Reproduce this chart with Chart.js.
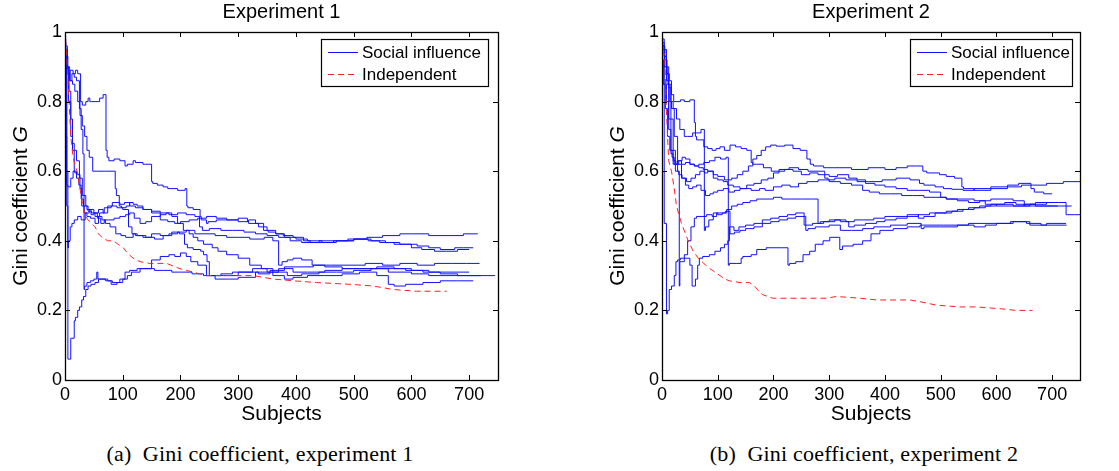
<!DOCTYPE html>
<html>
<head>
<meta charset="utf-8">
<script src="https://cdn.jsdelivr.net/npm/chart.js@4.4.1/dist/chart.umd.min.js"></script>
<style>
  body { margin: 0; background: #fff; width: 1119px; height: 471px; position: relative; overflow: hidden; }
  canvas { position: absolute; top: 0; }
  .caption { position: absolute; top: 441px; font-family: "Liberation Serif", "DejaVu Serif", serif; font-size: 22px; letter-spacing: 0.2px; white-space: nowrap; transform: translateX(-50%); color: #000; }
</style>
</head>
<body>
<canvas id="exp1" width="560" height="430" style="left:0"></canvas>
<canvas id="exp2" width="559" height="430" style="left:560px"></canvas>
<div class="caption" style="left:260px">(a)&nbsp; Gini coefficient, experiment 1</div>
<div class="caption" style="left:864px">(b)&nbsp; Gini coefficient, experiment 2</div>
<script>
// axis ticks (shared by both panels)
const xTicks = [0, 100, 200, 300, 400, 500, 600, 700];
const yTicks = [0, 0.2, 0.4, 0.6, 0.8, 1];

// ---- Experiment 1: [subjects, Gini] ----
const exp1Independent = [[1,0.98],[4,0.9],[7,0.8],[10,0.7],[14,0.64],[17,0.62],[21,0.6],[26,0.55],[31,0.5],[36,0.47],[40,0.46],[46,0.45],[52,0.44],[58,0.42],[64,0.41],[74,0.40],[84,0.40],[92,0.39],[101,0.38],[108,0.365],[118,0.35],[130,0.34],[147,0.335],[176,0.335],[199,0.32],[222,0.31],[245,0.30],[270,0.30],[292,0.30],[326,0.30],[361,0.29],[396,0.285],[436,0.28],[494,0.275],[534,0.27],[569,0.26],[609,0.255],[661,0.255]];

const exp1World1 = [[1,0.98],[4,0.96],[6,0.9],[9,0.88],[14,0.89],[18,0.88],[22,0.89],[27,0.88],[30,0.80],[36,0.79],[40,0.80],[43,0.81],[46,0.80],[60,0.80],[66,0.81],[71,0.82],[73,0.66],[76,0.64],[85,0.63],[95,0.635],[104,0.63],[108,0.615],[118,0.62],[122,0.63],[135,0.625],[140,0.62],[150,0.62],[152,0.57],[160,0.565],[170,0.56],[178,0.555],[195,0.55],[208,0.545],[211,0.55],[213,0.50],[222,0.495],[234,0.49],[236,0.47],[245,0.46],[248,0.45],[262,0.455],[275,0.46],[300,0.46],[316,0.465],[318,0.455],[335,0.45],[344,0.44],[352,0.43],[365,0.425],[378,0.42],[395,0.415],[413,0.41],[425,0.40],[445,0.395],[465,0.395],[490,0.40],[523,0.405],[550,0.41],[580,0.415],[600,0.42],[630,0.42],[660,0.415],[690,0.415],[715,0.42]];
const exp1World2 = [[1,0.97],[5,0.93],[9,0.88],[13,0.86],[17,0.85],[22,0.83],[26,0.80],[30,0.76],[34,0.73],[38,0.70],[42,0.66],[48,0.64],[54,0.60],[70,0.60],[87,0.60],[89,0.55],[94,0.53],[98,0.50],[106,0.495],[112,0.50],[118,0.51],[125,0.505],[135,0.50],[150,0.49],[165,0.485],[180,0.48],[195,0.475],[210,0.48],[225,0.475],[233,0.47],[238,0.44],[250,0.43],[270,0.435],[290,0.43],[310,0.43],[330,0.425],[350,0.42],[370,0.415],[390,0.41],[410,0.40],[440,0.395],[470,0.40],[500,0.40],[530,0.405],[555,0.40],[580,0.395],[610,0.39],[630,0.385],[650,0.38],[675,0.375],[690,0.38],[707,0.38]];
const exp1World3 = [[1,0.98],[3,0.95],[5,0.6],[6,0.38],[9,0.40],[12,0.44],[16,0.45],[22,0.46],[28,0.47],[35,0.46],[42,0.48],[50,0.49],[58,0.48],[66,0.49],[74,0.48],[82,0.50],[95,0.51],[103,0.505],[112,0.51],[122,0.50],[135,0.495],[150,0.49],[165,0.48],[178,0.46],[190,0.455],[200,0.45],[215,0.455],[230,0.46],[245,0.465],[262,0.47],[280,0.465],[300,0.46],[318,0.455],[330,0.46],[344,0.45],[350,0.44],[365,0.43],[380,0.42],[400,0.41],[420,0.405],[445,0.40],[470,0.395],[500,0.40],[525,0.405],[545,0.40],[570,0.395],[600,0.39],[618,0.38],[640,0.375],[660,0.37],[680,0.37],[700,0.375]];
const exp1World4 = [[1,0.96],[3,0.7],[5,0.56],[10,0.555],[14,0.58],[17,0.60],[22,0.595],[26,0.59],[29,0.55],[33,0.50],[38,0.48],[44,0.47],[52,0.465],[58,0.45],[64,0.47],[70,0.46],[78,0.45],[88,0.44],[97,0.42],[105,0.415],[118,0.41],[125,0.42],[140,0.415],[155,0.41],[170,0.405],[185,0.415],[198,0.425],[207,0.42],[212,0.39],[222,0.38],[235,0.375],[240,0.37],[246,0.36],[250,0.34],[257,0.30],[270,0.30],[290,0.305],[310,0.31],[335,0.31],[355,0.305],[380,0.315],[400,0.325],[430,0.325],[460,0.33],[490,0.33],[520,0.33],[550,0.335],[580,0.33],[610,0.335],[640,0.33],[670,0.335],[695,0.335],[718,0.335]];
const exp1World5 = [[1,0.98],[3,0.9],[5,0.5],[7,0.06],[10,0.06],[11,0.12],[16,0.12],[18,0.17],[22,0.18],[25,0.20],[29,0.21],[32,0.23],[36,0.24],[40,0.26],[45,0.27],[52,0.275],[58,0.28],[64,0.29],[74,0.29],[82,0.285],[95,0.28],[104,0.29],[112,0.31],[125,0.315],[140,0.32],[155,0.32],[170,0.315],[185,0.315],[200,0.31],[220,0.31],[240,0.305],[260,0.30],[285,0.29],[300,0.29],[330,0.295],[360,0.31],[385,0.31],[410,0.30],[440,0.305],[470,0.31],[500,0.31],[530,0.315],[560,0.32],[590,0.32],[620,0.315],[650,0.31],[680,0.305],[710,0.30],[745,0.30]];
const exp1World6 = [[1,0.99],[4,0.95],[8,0.9],[12,0.86],[16,0.88],[20,0.87],[25,0.86],[28,0.78],[31,0.72],[33,0.65],[34,0.26],[38,0.27],[44,0.28],[50,0.285],[55,0.29],[57,0.31],[60,0.29],[70,0.29],[80,0.285],[90,0.275],[100,0.28],[108,0.29],[115,0.30],[130,0.31],[150,0.32],[165,0.345],[180,0.355],[190,0.36],[200,0.355],[210,0.365],[218,0.355],[230,0.34],[245,0.33],[257,0.30],[275,0.30],[300,0.30],[325,0.31],[350,0.32],[370,0.31],[395,0.32],[420,0.31],[450,0.31],[480,0.315],[510,0.32],[540,0.32],[570,0.325],[600,0.32],[630,0.315],[660,0.31],[700,0.31]];
const exp1World7 = [[1,0.97],[3,0.93],[6,0.88],[10,0.8],[13,0.75],[16,0.68],[20,0.66],[25,0.63],[30,0.58],[36,0.53],[40,0.50],[46,0.485],[52,0.48],[60,0.47],[68,0.48],[80,0.495],[90,0.50],[100,0.495],[110,0.49],[116,0.44],[122,0.42],[135,0.415],[150,0.41],[165,0.42],[180,0.415],[195,0.42],[210,0.425],[225,0.43],[240,0.42],[260,0.42],[280,0.415],[300,0.41],[320,0.41],[345,0.405],[360,0.41],[370,0.40],[376,0.33],[385,0.34],[395,0.345],[410,0.35],[428,0.345],[432,0.33],[450,0.33],[480,0.325],[510,0.32],[540,0.32],[560,0.32],[600,0.31],[630,0.305],[660,0.30],[690,0.30],[720,0.30]];
const exp1World8 = [[1,0.96],[4,0.93],[7,0.88],[10,0.83],[13,0.7],[16,0.66],[20,0.6],[24,0.58],[28,0.56],[32,0.52],[38,0.50],[45,0.49],[50,0.475],[56,0.48],[62,0.465],[68,0.45],[75,0.46],[85,0.46],[95,0.465],[105,0.47],[112,0.475],[120,0.48],[130,0.465],[140,0.45],[150,0.455],[165,0.47],[175,0.475],[185,0.48],[195,0.47],[205,0.45],[215,0.43],[222,0.42],[230,0.41],[240,0.40],[255,0.39],[265,0.38],[280,0.37],[300,0.36],[320,0.35],[340,0.33],[360,0.32],[380,0.30],[395,0.29],[420,0.295],[450,0.30],[480,0.30],[510,0.305],[540,0.31],[560,0.30],[570,0.275],[590,0.27],[620,0.275],[650,0.28],[680,0.285],[707,0.285]];

// ---- Experiment 2 ----
const exp2Independent = [[1,0.95],[5,0.93],[8,0.77],[12,0.63],[17,0.60],[22,0.55],[26,0.50],[35,0.45],[47,0.40],[56,0.37],[65,0.35],[75,0.335],[86,0.32],[95,0.31],[104,0.30],[113,0.29],[121,0.285],[140,0.28],[157,0.28],[166,0.27],[174,0.255],[181,0.245],[190,0.24],[199,0.235],[230,0.235],[260,0.235],[295,0.235],[313,0.24],[355,0.235],[385,0.23],[445,0.23],[463,0.225],[493,0.215],[534,0.21],[564,0.21],[606,0.205],[635,0.20],[665,0.20]];

const exp2World1 = [[1,0.98],[4,0.97],[8,0.9],[12,0.86],[16,0.75],[20,0.66],[25,0.63],[30,0.62],[36,0.63],[42,0.64],[50,0.635],[58,0.62],[66,0.615],[74,0.61],[82,0.605],[92,0.60],[100,0.59],[112,0.585],[125,0.575],[135,0.58],[145,0.59],[155,0.60],[163,0.615],[170,0.635],[178,0.645],[186,0.66],[195,0.67],[205,0.675],[220,0.672],[235,0.675],[248,0.665],[260,0.66],[266,0.635],[272,0.62],[290,0.615],[310,0.61],[340,0.61],[370,0.605],[400,0.61],[420,0.605],[440,0.61],[455,0.615],[468,0.615],[475,0.60],[498,0.595],[510,0.59],[525,0.585],[538,0.58],[541,0.555],[560,0.55],[590,0.545],[620,0.55],[645,0.555],[665,0.56],[690,0.56],[720,0.565],[750,0.57]];
const exp2World2 = [[1,0.97],[5,0.96],[9,0.92],[13,0.88],[17,0.86],[21,0.82],[27,0.80],[33,0.80],[40,0.805],[50,0.80],[58,0.805],[60,0.74],[62,0.70],[68,0.69],[75,0.69],[82,0.67],[90,0.665],[97,0.66],[104,0.665],[112,0.67],[122,0.66],[132,0.675],[142,0.67],[152,0.665],[160,0.66],[163,0.625],[170,0.62],[182,0.62],[196,0.61],[210,0.60],[228,0.605],[245,0.61],[262,0.605],[280,0.60],[292,0.60],[298,0.58],[310,0.575],[330,0.58],[350,0.575],[370,0.57],[395,0.57],[420,0.575],[445,0.58],[462,0.575],[470,0.565],[490,0.56],[505,0.555],[520,0.55],[540,0.548],[560,0.545],[590,0.55],[620,0.555],[640,0.56],[662,0.565],[668,0.55],[685,0.54],[700,0.535]];
const exp2World3 = [[1,0.98],[4,0.9],[8,0.85],[12,0.8],[16,0.72],[20,0.65],[24,0.62],[30,0.60],[36,0.59],[44,0.58],[52,0.57],[60,0.58],[68,0.59],[76,0.60],[82,0.595],[92,0.60],[100,0.58],[110,0.575],[118,0.57],[128,0.56],[140,0.555],[150,0.55],[160,0.55],[175,0.545],[185,0.55],[200,0.545],[215,0.555],[230,0.56],[245,0.555],[260,0.565],[280,0.57],[300,0.575],[320,0.57],[340,0.565],[360,0.56],[372,0.545],[390,0.54],[410,0.535],[430,0.535],[450,0.53],[470,0.53],[490,0.525],[510,0.525],[540,0.52],[560,0.52],[580,0.515],[600,0.505],[630,0.50],[660,0.50],[690,0.505],[712,0.51],[725,0.51],[727,0.475],[740,0.475],[750,0.475]];
const exp2World4 = [[1,0.99],[4,0.98],[8,0.95],[12,0.9],[16,0.85],[20,0.8],[26,0.78],[32,0.75],[40,0.72],[46,0.70],[55,0.70],[62,0.71],[70,0.71],[76,0.72],[78,0.43],[84,0.44],[92,0.46],[100,0.48],[108,0.475],[116,0.48],[125,0.49],[135,0.50],[145,0.505],[158,0.51],[170,0.515],[185,0.52],[200,0.52],[215,0.525],[230,0.52],[250,0.52],[268,0.52],[280,0.52],[284,0.45],[300,0.455],[320,0.46],[335,0.455],[345,0.44],[365,0.445],[385,0.45],[400,0.455],[420,0.46],[440,0.465],[460,0.47],[480,0.475],[500,0.48],[520,0.48],[540,0.485],[560,0.49],[580,0.495],[600,0.50],[615,0.505],[635,0.51],[650,0.505],[665,0.50],[690,0.50],[710,0.50]];
const exp2World5 = [[1,0.97],[4,0.85],[8,0.45],[10,0.19],[13,0.2],[17,0.26],[22,0.27],[25,0.30],[28,0.34],[33,0.345],[39,0.35],[50,0.35],[54,0.33],[56,0.27],[60,0.27],[64,0.29],[67,0.33],[73,0.35],[85,0.355],[95,0.36],[105,0.37],[112,0.38],[118,0.39],[121,0.40],[129,0.44],[138,0.43],[150,0.44],[165,0.445],[180,0.45],[195,0.46],[210,0.465],[225,0.47],[240,0.475],[255,0.48],[258,0.445],[270,0.445],[290,0.45],[310,0.455],[330,0.46],[345,0.455],[360,0.46],[380,0.46],[400,0.465],[420,0.47],[440,0.47],[460,0.475],[470,0.465],[490,0.47],[510,0.48],[530,0.485],[550,0.49],[570,0.495],[590,0.50],[610,0.505],[630,0.505],[650,0.50],[670,0.505],[700,0.51]];
const exp2World6 = [[1,0.98],[3,0.92],[6,0.85],[10,0.78],[14,0.7],[18,0.66],[22,0.64],[28,0.62],[35,0.63],[42,0.62],[50,0.625],[58,0.62],[66,0.615],[75,0.62],[85,0.625],[95,0.63],[105,0.64],[115,0.635],[119,0.64],[121,0.33],[133,0.335],[142,0.335],[145,0.35],[160,0.355],[170,0.36],[187,0.375],[199,0.38],[215,0.38],[226,0.38],[229,0.33],[240,0.335],[253,0.34],[265,0.36],[275,0.37],[289,0.39],[301,0.40],[319,0.41],[324,0.375],[343,0.385],[360,0.39],[375,0.40],[391,0.42],[415,0.43],[440,0.435],[463,0.44],[505,0.445],[550,0.445],[594,0.45],[625,0.45],[654,0.455],[680,0.45],[700,0.445],[726,0.445]];
const exp2World7 = [[1,0.97],[4,0.96],[8,0.93],[12,0.88],[16,0.84],[20,0.75],[24,0.66],[28,0.62],[31,0.60],[32,0.27],[35,0.34],[40,0.34],[46,0.36],[52,0.40],[58,0.44],[62,0.465],[70,0.47],[80,0.47],[90,0.475],[98,0.47],[106,0.48],[114,0.48],[122,0.485],[130,0.42],[140,0.425],[150,0.43],[165,0.435],[180,0.44],[195,0.45],[210,0.455],[225,0.46],[240,0.465],[258,0.47],[262,0.43],[275,0.435],[300,0.44],[320,0.445],[340,0.43],[360,0.43],[380,0.435],[410,0.44],[440,0.445],[465,0.45],[470,0.435],[500,0.44],[530,0.44],[560,0.445],[580,0.44],[600,0.445],[630,0.45],[660,0.455],[690,0.445],[725,0.45]];
const exp2World8 = [[1,0.98],[5,0.95],[9,0.9],[13,0.85],[17,0.8],[22,0.78],[28,0.70],[35,0.62],[42,0.58],[48,0.56],[55,0.55],[62,0.555],[70,0.56],[78,0.545],[86,0.53],[92,0.535],[100,0.54],[110,0.545],[120,0.55],[130,0.54],[140,0.545],[152,0.55],[165,0.56],[178,0.565],[190,0.575],[200,0.58],[210,0.595],[220,0.60],[235,0.605],[250,0.60],[265,0.59],[280,0.595],[300,0.59],[315,0.585],[335,0.59],[350,0.58],[365,0.575],[382,0.565],[400,0.56],[420,0.555],[440,0.55],[460,0.545],[480,0.545],[500,0.54],[510,0.525],[530,0.52],[550,0.515],[570,0.51],[590,0.515],[610,0.52],[630,0.52],[650,0.515],[670,0.505],[700,0.50],[735,0.50]];

const BLUE = '#1010ff';
const RED = '#ff2020';
const SANS = '"Liberation Sans", Arial, Helvetica, sans-serif';

/**
 * Draws the MATLAB-style frame: box, inward ticks, title, axis labels, legend.
 */
const framePlugin = {
  id: 'frame',
  afterDraw(chart, args, opts) {
    const ctx = chart.ctx;
    const area = chart.chartArea;
    const xs = chart.scales.x;
    const ys = chart.scales.y;
    const tick = 5;

    ctx.save();
    ctx.strokeStyle = '#000';
    ctx.lineWidth = 1;

    // inward ticks on all four sides
    ctx.beginPath();
    xTicks.forEach(v => {
      const px = Math.round(xs.getPixelForValue(v)) + 0.5;
      ctx.moveTo(px, area.bottom); ctx.lineTo(px, area.bottom - tick);
      ctx.moveTo(px, area.top); ctx.lineTo(px, area.top + tick);
    });
    yTicks.forEach(v => {
      const py = Math.round(ys.getPixelForValue(v)) + 0.5;
      ctx.moveTo(area.left, py); ctx.lineTo(area.left + tick, py);
      ctx.moveTo(area.right, py); ctx.lineTo(area.right - tick, py);
    });
    ctx.stroke();

    // box
    ctx.lineWidth = 1.3;
    ctx.strokeRect(Math.round(area.left) + 0.5, Math.round(area.top) + 0.5,
      Math.round(area.right - area.left), Math.round(area.bottom - area.top));

    const cx = (area.left + area.right) / 2;
    ctx.fillStyle = '#000';
    ctx.textAlign = 'center';
    ctx.textBaseline = 'middle';

    // title
    ctx.font = '20px ' + SANS;
    ctx.fillText(opts.title, cx, 12);

    // x label
    ctx.font = '21px ' + SANS;
    ctx.fillText('Subjects', cx, 414);

    // y label with italic G
    const plain = 'Gini coefficient ';
    ctx.font = '21px ' + SANS;
    const w1 = ctx.measureText(plain).width;
    ctx.font = 'italic 21px ' + SANS;
    const w2 = ctx.measureText('G').width;
    const cy = (area.top + area.bottom) / 2;
    ctx.translate(opts.yLabelX, cy);
    ctx.rotate(-Math.PI / 2);
    ctx.textAlign = 'left';
    ctx.font = '21px ' + SANS;
    ctx.fillText(plain, -(w1 + w2) / 2, 0);
    ctx.font = 'italic 21px ' + SANS;
    ctx.fillText('G', -(w1 + w2) / 2 + w1, 0);
    ctx.setTransform(1, 0, 0, 1, 0, 0);
    ctx.restore();

    // legend
    const lg = opts.legend;
    ctx.save();
    ctx.fillStyle = '#fff';
    ctx.fillRect(lg.left, lg.top, lg.width, lg.height);
    ctx.strokeStyle = '#000';
    ctx.lineWidth = 1.2;
    ctx.strokeRect(lg.left + 0.5, lg.top + 0.5, lg.width, lg.height);
    const rows = [
      { label: 'Social influence', color: BLUE, dash: [], y: lg.top + 13 },
      { label: 'Independent', color: RED, dash: [6, 4], y: lg.top + 35 }
    ];
    rows.forEach(r => {
      ctx.beginPath();
      ctx.strokeStyle = r.color;
      ctx.lineWidth = 1;
      ctx.setLineDash(r.dash);
      ctx.moveTo(lg.left + 7, r.y + 0.5);
      ctx.lineTo(lg.left + 37, r.y + 0.5);
      ctx.stroke();
      ctx.setLineDash([]);
      ctx.fillStyle = '#000';
      ctx.font = '17px ' + SANS;
      ctx.textAlign = 'left';
      ctx.textBaseline = 'middle';
      ctx.fillText(r.label, lg.left + 41, r.y + 1);
    });
    ctx.restore();
  }
};

function makeDatasets(independent, worlds) {
  const sets = [{
    data: independent,
    borderColor: RED,
    borderWidth: 1,
    borderDash: [6, 4],
    pointRadius: 0,
    showLine: true,
    tension: 0
  }];
  // each world's Gini changes in jumps, so draw it as a staircase
  worlds.forEach(w => sets.push({
    data: w,
    borderColor: BLUE,
    borderWidth: 1,
    pointRadius: 0,
    showLine: true,
    stepped: 'after'
  }));
  return sets;
}

function createGiniChart(canvas, cfg) {
  return new Chart(canvas.getContext('2d'), {
    type: 'scatter',
    data: { datasets: makeDatasets(cfg.independent, cfg.worlds) },
    options: {
      responsive: false,
      animation: false,
      events: [],
      layout: { padding: { top: 32, right: cfg.padRight, left: 0, bottom: 0 } },
      plugins: {
        legend: { display: false },
        tooltip: { enabled: false },
        frame: cfg.frame
      },
      scales: {
        x: {
          type: 'linear',
          min: 0,
          max: 750,
          afterBuildTicks: s => { s.ticks = xTicks.map(v => ({ value: v })); },
          afterFit: s => { s.height = 50; },
          grid: { display: false, drawTicks: false },
          border: { display: false },
          ticks: { color: '#000', font: { family: SANS, size: 18 }, padding: 4, maxRotation: 0, autoSkip: false }
        },
        y: {
          type: 'linear',
          min: 0,
          max: 1,
          afterBuildTicks: s => { s.ticks = yTicks.map(v => ({ value: v })); },
          afterFit: s => { s.width = cfg.yWidth; },
          grid: { display: false, drawTicks: false },
          border: { display: false },
          ticks: {
            color: '#000', font: { family: SANS, size: 18 }, padding: 3,
            callback: v => String(Math.round(v * 10) / 10)
          }
        }
      }
    },
    plugins: [framePlugin]
  });
}

createGiniChart(document.getElementById('exp1'), {
  independent: exp1Independent,
  worlds: [exp1World1, exp1World2, exp1World3, exp1World4, exp1World5, exp1World6, exp1World7, exp1World8],
  padRight: 62,
  yWidth: 65,
  frame: { title: 'Experiment 1', yLabelX: 21, legend: { left: 321, top: 39, width: 167, height: 47 } }
});

createGiniChart(document.getElementById('exp2'), {
  independent: exp2Independent,
  worlds: [exp2World1, exp2World2, exp2World3, exp2World4, exp2World5, exp2World6, exp2World7, exp2World8],
  padRight: 39,
  yWidth: 102,
  frame: { title: 'Experiment 2', yLabelX: 58, legend: { left: 350, top: 39, width: 162, height: 47 } }
});
</script>
</body>
</html>
